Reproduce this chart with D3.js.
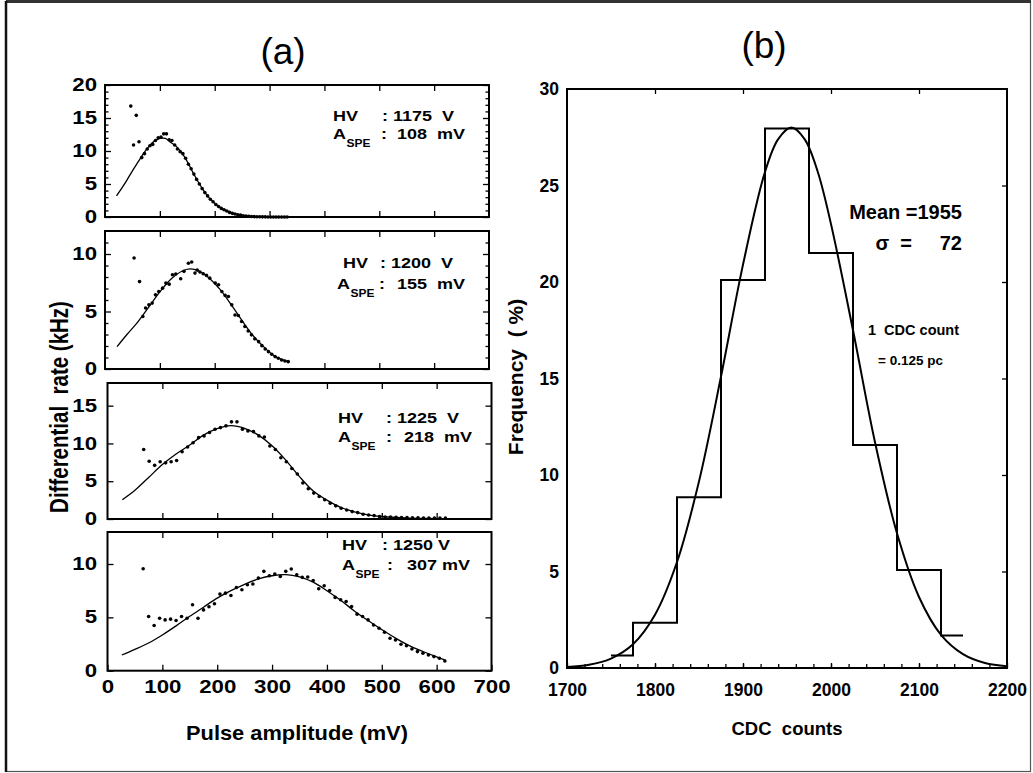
<!DOCTYPE html>
<html>
<head>
<meta charset="utf-8">
<script src="https://cdn.jsdelivr.net/npm/d3@7"></script>
<style>
  body { margin: 0; background: #fff; }
  svg { display: block; font-family: "Liberation Sans", Arial, sans-serif; }
</style>
</head>
<body>
<svg id="fig" width="1033" height="773"></svg>
<script>
'use strict';

// ---- data ----

// (a) pulse height spectra, one per HV setting
var hvValues = ['1175', '1200', '1225', '1250'];
var aspeValues = ['108', '155', '218', '307'];

var dots1X = [47,52,57,62,67,72,77,82,87,92,97,102,107,112,117,122,127,132,137,142,147,152,157,162,167,172,177,182,187,192,197,202,207,212,217,222,227,232,237,242,247,252,257,262,267,272,277,282,287,292,297,302,307,312,317,322,327,332];
var dots1Y = [16.8,10.9,15.4,11.4,9.0,9.6,10.3,10.8,11.0,11.6,12.0,12.1,12.6,12.6,11.7,11.6,10.9,10.3,9.9,9.6,8.9,8.0,7.3,6.5,5.7,5.0,4.3,3.7,3.2,2.7,2.3,1.9,1.6,1.3,1.1,0.9,0.7,0.55,0.45,0.35,0.28,0.2,0.15,0.11,0.08,0.06,0.04,0.03,0.02,0.02,0.01,0.01,0.01,0,0,0,0,0];
var fit1X = [21,30,40,50,60,70,80,90,100,110,120,130,140,150,160,170,180,190,200,210,220,230,240,250,260,270,280,290,300,315,332];
var fit1Y = [3.2,4.3,5.6,7.0,8.3,9.6,10.7,11.5,11.9,11.9,11.3,10.7,9.7,8.4,6.8,5.3,4.0,2.9,2.1,1.45,1.0,0.62,0.4,0.24,0.13,0.07,0.04,0.02,0.01,0,0];

var dots2X = [53,63,69,74,80,86,92,98,105,111,117,123,129,138,144,152,158,164,168,173,179,185,191,201,207,213,219,225,231,237,243,249,255,261,267,273,280,286,292,298,304,310,316,322,328,334];
var dots2Y = [9.65,7.6,4.56,5.3,5.58,5.73,6.45,6.74,7.03,7.47,7.38,8.2,8.26,7.85,8.49,9.2,9.3,8.34,8.6,8.43,8.28,8.14,7.9,7.47,7.33,6.74,6.4,6.3,5.58,4.7,4.65,4.13,3.69,3.31,2.97,2.62,2.38,2.03,1.74,1.51,1.28,1.08,0.93,0.78,0.7,0.64];
var fit2X = [22,40,60,80,100,120,140,155,170,190,210,230,250,270,290,310,334];
var fit2Y = [1.95,3.0,4.1,5.4,6.7,7.8,8.5,8.7,8.55,7.9,6.9,5.6,4.2,2.9,1.9,1.1,0.64];

var dots3X = [66,76,86,96,106,116,126,136,146,156,166,176,186,196,206,216,226,236,246,256,266,276,286,296,306,316,326,336,346,356,366,376,386,396,406,416,426,436,446,456,466,476,486,496,506,516,526,536,546,556,566,576,586,596,606,616];
var dots3Y = [9.2,7.65,7.1,7.57,7.43,7.57,7.74,8.9,9.52,10.1,10.77,11.0,11.44,11.88,12.1,12.33,12.86,12.86,11.88,11.66,11.57,11.0,10.86,9.66,9.2,8.1,7.57,6.68,5.96,4.76,4.0,3.43,2.98,2.54,2.09,1.74,1.42,1.2,0.98,0.85,0.62,0.53,0.45,0.31,0.27,0.25,0.22,0.2,0.18,0.17,0.15,0.14,0.13,0.12,0.12,0.11];
var fit3X = [27,50,75,100,125,150,175,200,225,250,275,300,325,350,375,400,425,450,475,500,525,550,575,600,620];
var fit3Y = [2.54,3.8,5.5,7.2,8.6,9.8,11.1,11.95,12.35,12.0,11.1,9.7,7.8,5.6,3.7,2.5,1.55,0.95,0.56,0.33,0.2,0.12,0.08,0.05,0.04];

var dots4X = [65,75,85,95,105,115,125,135,145,155,165,175,185,195,205,215,225,235,245,255,265,275,285,295,305,315,325,335,345,355,365,375,385,395,405,415,425,435,445,455,465,475,485,495,505,515,525,535,545,555,565,575,585,595,605,615];
var dots4Y = [9.56,5.08,4.23,4.92,4.76,4.83,4.7,5.08,4.92,6.18,4.92,5.7,6.0,6.27,7.18,7.27,7.05,7.8,7.59,8.06,8.12,8.68,9.31,8.9,9.06,8.84,9.31,9.53,9.0,8.75,8.78,8.46,7.68,7.96,7.52,6.87,6.65,6.49,6.02,5.3,5.08,4.76,4.29,3.98,3.6,3.04,2.88,2.48,2.35,2.04,1.79,1.63,1.47,1.32,1.16,0.91];
var fit4X = [26,50,75,100,125,150,175,200,225,250,275,300,325,350,375,400,425,450,475,500,525,550,575,600,616];
var fit4Y = [1.47,2.0,2.6,3.35,4.2,5.1,5.95,6.8,7.5,8.1,8.6,8.9,9.0,8.8,8.3,7.5,6.6,5.6,4.7,3.85,3.05,2.35,1.8,1.3,1.0];

var ampTicks = [0,100,200,300,400,500,600,700];
var rateTicks = [[0,5,10,15,20], [0,5,10], [0,5,10,15], [0,5,10]];
var rateMax = [20, 12, 18, 13];

// (b) CDC histogram and gaussian fit
var cdcEdges = [1750,1775,1825,1875,1925,1975,2025,2075,2125,2150];
var cdcFreq = [0.65,2.35,8.85,20.1,27.95,21.5,11.55,5.08,1.68];
var gausX = [1700,1725,1750,1775,1800,1825,1850,1875,1900,1925,1940,1955,1970,1985,2000,2025,2050,2075,2100,2125,2150,2175,2200];
var gausY = [0.05,0.17,0.49,1.23,2.76,5.49,9.67,15.1,20.9,25.7,27.4,28.0,27.4,25.7,23.0,17.5,11.7,6.98,3.68,1.72,0.72,0.26,0.09];
var cdcTicks = [1700,1800,1900,2000,2100,2200];
var freqTicks = [0,5,10,15,20,25,30];

// ---- layout ----
var svg = d3.select('#fig');
var stretchA = 1.27;   // panel (a) text looks widened
var SP = '\u00a0';     // hard space, svg collapses normal ones

// stretch a text element horizontally about its own anchor
function stretch(sel, sx) {
  sel.each(function () {
    var t = d3.select(this);
    var x = +t.attr('x') || 0, y = +t.attr('y') || 0;
    t.attr('transform', 'translate(' + x + ',' + y + ') scale(' + sx + ',1) translate(' + (-x) + ',' + (-y) + ')');
  });
}

function cleanAxis(g) {
  g.select('.domain').remove();
  g.selectAll('.tick line').attr('stroke', '#000').attr('stroke-width', 1.3);
  g.selectAll('.tick text').attr('fill', '#000').attr('font-weight', 'bold').attr('font-size', 17.5);
}

// outer frame
svg.append('rect').attr('x', 6).attr('y', 1.5).attr('width', 1024.5).attr('height', 770)
  .attr('fill', 'none').attr('stroke', '#555').attr('stroke-width', 1.2);
svg.append('line').attr('x1', 6).attr('x2', 1031).attr('y1', 1.5).attr('y2', 1.5)
  .attr('stroke', '#333').attr('stroke-width', 3);
svg.append('line').attr('x1', 6).attr('x2', 6).attr('y1', 1).attr('y2', 772)
  .attr('stroke', '#111').attr('stroke-width', 2.5);

// ================= panel (a) =================
var aBoxes = [
  {left: 105, right: 489, top: 85, bottom: 217, minor: true},
  {left: 105, right: 489, top: 231, bottom: 369, minor: true},
  {left: 107.5, right: 491.5, top: 383, bottom: 519, minor: false},
  {left: 107.5, right: 491.5, top: 532, bottom: 670.7, minor: false}
];
// note positions: HV label and its colon; A_SPE label, its colon, line end
var aNotes = [
  {hvX: 333, hvColon: 382, hvBase: 121, aX: 333, colonX: 381, aEnd: 465, aBase: 139, unit: SP + SP},
  {hvX: 343, hvColon: 380, hvBase: 268, aX: 337, colonX: 379, aEnd: 465, aBase: 289, unit: SP + SP},
  {hvX: 338, hvColon: 386, hvBase: 423, aX: 338, colonX: 386, aEnd: 472, aBase: 442, unit: SP + SP},
  {hvX: 342, hvColon: 382, hvBase: 550, aX: 342, colonX: 387, aEnd: 470, aBase: 570, unit: SP}
];
var aDots = [[dots1X, dots1Y], [dots2X, dots2Y], [dots3X, dots3Y], [dots4X, dots4Y]];
var aFits = [[fit1X, fit1Y], [fit2X, fit2Y], [fit3X, fit3Y], [fit4X, fit4Y]];

aBoxes.forEach(function (b, i) {
  var x = d3.scaleLinear().domain([0, 700]).range([b.left, b.right]);
  var y = d3.scaleLinear().domain([0, rateMax[i]]).range([b.bottom, b.top]);
  var g = svg.append('g').attr('class', 'spectrum' + (i + 1));
  var minorVals = d3.range(1, rateMax[i]).filter(function (v) { return v % 5 !== 0; });

  // left axis with labels, ticks inward
  var left = g.append('g').attr('transform', 'translate(' + b.left + ',0)')
    .call(d3.axisLeft(y).tickValues(rateTicks[i]).tickSize(-6).tickPadding(b.left - 97))
    .call(cleanAxis);
  stretch(left.selectAll('.tick text'), stretchA);

  g.append('g').attr('transform', 'translate(' + b.right + ',0)')
    .call(d3.axisRight(y).tickValues(rateTicks[i]).tickSize(-6).tickFormat(''))
    .call(cleanAxis);

  if (b.minor) {
    g.append('g').attr('transform', 'translate(' + b.left + ',0)')
      .call(d3.axisLeft(y).tickValues(minorVals).tickSize(-3.5).tickFormat(''))
      .call(cleanAxis);
    g.append('g').attr('transform', 'translate(' + b.right + ',0)')
      .call(d3.axisRight(y).tickValues(minorVals).tickSize(-3.5).tickFormat(''))
      .call(cleanAxis);
  }

  g.append('g').attr('transform', 'translate(0,' + b.top + ')')
    .call(d3.axisTop(x).tickValues(ampTicks.slice(1, -1)).tickSize(-6).tickFormat(''))
    .call(cleanAxis);

  var bottomAxis = d3.axisBottom(x).tickSize(-6);
  if (i === 3) {
    bottomAxis.tickValues(ampTicks).tickPadding(10.3);
  } else {
    bottomAxis.tickValues(ampTicks.slice(1, -1)).tickFormat('');
  }
  var bot = g.append('g').attr('transform', 'translate(0,' + b.bottom + ')')
    .call(bottomAxis).call(cleanAxis);
  stretch(bot.selectAll('.tick text'), stretchA);

  // frame
  g.append('rect').attr('x', b.left).attr('y', b.top)
    .attr('width', b.right - b.left).attr('height', b.bottom - b.top)
    .attr('fill', 'none').attr('stroke', '#000').attr('stroke-width', 2);

  // fitted curve
  var fitPts = aFits[i][0].map(function (v, k) { return [v, aFits[i][1][k]]; });
  g.append('path').datum(fitPts)
    .attr('fill', 'none').attr('stroke', '#000').attr('stroke-width', 1.3)
    .attr('d', d3.line().x(function (d) { return x(d[0]); }).y(function (d) { return y(d[1]); })
      .curve(d3.curveCatmullRom));

  // data points
  var dotPts = aDots[i][0].map(function (v, k) { return [v, aDots[i][1][k]]; });
  g.selectAll('circle.pt').data(dotPts).enter().append('circle')
    .attr('class', 'pt')
    .attr('cx', function (d) { return x(d[0]); })
    .attr('cy', function (d) { return y(d[1]); })
    .attr('r', 1.8).attr('fill', '#000');

  // HV / A_SPE notes
  var n = aNotes[i];
  var notes = g.append('g').attr('font-weight', 'bold').attr('font-size', 15).attr('fill', '#000');
  var parts = [
    notes.append('text').attr('x', n.hvX).attr('y', n.hvBase).text('HV'),
    notes.append('text').attr('x', n.hvColon).attr('y', n.hvBase).text(':'),
    notes.append('text').attr('x', n.hvColon + 11).attr('y', n.hvBase)
      .text(hvValues[i] + n.unit + 'V'),
    notes.append('text').attr('x', n.aX).attr('y', n.aBase).text('A'),
    notes.append('text').attr('x', n.aX + 13.5).attr('y', n.aBase + 8).attr('font-size', 10).text('SPE'),
    notes.append('text').attr('x', n.colonX).attr('y', n.aBase).text(':'),
    notes.append('text').attr('x', n.aEnd).attr('y', n.aBase).attr('text-anchor', 'end')
      .text(aspeValues[i] + n.unit + 'mV')
  ];
  parts.forEach(function (t) { stretch(t, 1.2); });
});

// panel (a) titles
svg.append('text').attr('x', 283).attr('y', 64).attr('text-anchor', 'middle')
  .attr('font-size', 37).text('(a)');

var xTitleA = svg.append('text').attr('x', 297).attr('y', 740).attr('text-anchor', 'middle')
  .attr('font-size', 19.5).attr('font-weight', 'bold').text('Pulse amplitude (mV)');
stretch(xTitleA, 1.12);

svg.append('text')
  .attr('transform', 'translate(68,407) scale(' + stretchA + ',1) rotate(-90)')
  .attr('text-anchor', 'middle').attr('font-size', 20.5).attr('font-weight', 'bold')
  .text('Differential' + SP + SP + 'rate (kHz)');

// ================= panel (b) =================
var bBox = {left: 567, right: 1007, top: 89, bottom: 668};
var xb = d3.scaleLinear().domain([1700, 2200]).range([bBox.left, bBox.right]);
var yb = d3.scaleLinear().domain([0, 30]).range([bBox.bottom, bBox.top]);
var gb = svg.append('g').attr('class', 'cdc');

gb.append('g').attr('transform', 'translate(' + bBox.left + ',0)')
  .call(d3.axisLeft(yb).tickValues(freqTicks).tickSize(0).tickPadding(8))
  .call(cleanAxis);
gb.append('g').attr('transform', 'translate(' + bBox.right + ',0)')
  .call(d3.axisRight(yb).tickValues(freqTicks.slice(1, -1)).tickSize(-5).tickFormat(''))
  .call(cleanAxis);
gb.append('g').attr('transform', 'translate(0,' + bBox.top + ')')
  .call(d3.axisTop(xb).tickValues(cdcTicks.slice(1, -1)).tickSize(-5).tickFormat(''))
  .call(cleanAxis);
gb.append('g').attr('transform', 'translate(0,' + bBox.bottom + ')')
  .call(d3.axisBottom(xb).tickValues(d3.range(1720, 2200, 20)).tickSize(-4).tickFormat(''))
  .call(cleanAxis);
gb.append('g').attr('transform', 'translate(0,' + bBox.bottom + ')')
  .call(d3.axisBottom(xb).tickValues(cdcTicks).tickSize(-5).tickPadding(16).tickFormat(d3.format('d')))
  .call(cleanAxis);

gb.append('rect').attr('x', bBox.left).attr('y', bBox.top)
  .attr('width', bBox.right - bBox.left).attr('height', bBox.bottom - bBox.top)
  .attr('fill', 'none').attr('stroke', '#000').attr('stroke-width', 2);

// histogram as a step line
var stepPts = cdcEdges.map(function (e, k) { return [e, cdcFreq[Math.min(k, cdcFreq.length - 1)]]; });
gb.append('path').datum(stepPts)
  .attr('fill', 'none').attr('stroke', '#000').attr('stroke-width', 2)
  .attr('d', d3.line().x(function (d) { return xb(d[0]); }).y(function (d) { return yb(d[1]); })
    .curve(d3.curveStepAfter));

// gaussian fit
var gausPts = gausX.map(function (v, k) { return [v, gausY[k]]; });
gb.append('path').datum(gausPts)
  .attr('fill', 'none').attr('stroke', '#000').attr('stroke-width', 2)
  .attr('d', d3.line().x(function (d) { return xb(d[0]); }).y(function (d) { return yb(d[1]); })
    .curve(d3.curveCatmullRom));

// notes
var nb = gb.append('g').attr('font-weight', 'bold').attr('fill', '#000');
nb.append('text').attr('x', 962).attr('y', 219).attr('text-anchor', 'end').attr('font-size', 20).text('Mean =1955');
nb.append('text').attr('x', 962).attr('y', 250).attr('text-anchor', 'end').attr('font-size', 20)
  .text('\u03c3' + SP + SP + '=' + SP + SP + SP + SP + SP + '72');
nb.append('text').attr('x', 868).attr('y', 335).attr('font-size', 14.5).text('1' + SP + SP + 'CDC count');
nb.append('text').attr('x', 878).attr('y', 365).attr('font-size', 13.5).text('= 0.125 pc');

// panel (b) titles
svg.append('text').attr('x', 764).attr('y', 58).attr('text-anchor', 'middle')
  .attr('font-size', 37).text('(b)');
svg.append('text').attr('x', 787).attr('y', 735).attr('text-anchor', 'middle')
  .attr('font-size', 18.5).attr('font-weight', 'bold').text('CDC' + SP + SP + 'counts');
svg.append('text')
  .attr('transform', 'translate(523,377) rotate(-90)')
  .attr('text-anchor', 'middle').attr('font-size', 21).attr('font-weight', 'bold')
  .text('Frequency' + SP + SP + '(' + SP + '%)');
</script>
</body>
</html>
